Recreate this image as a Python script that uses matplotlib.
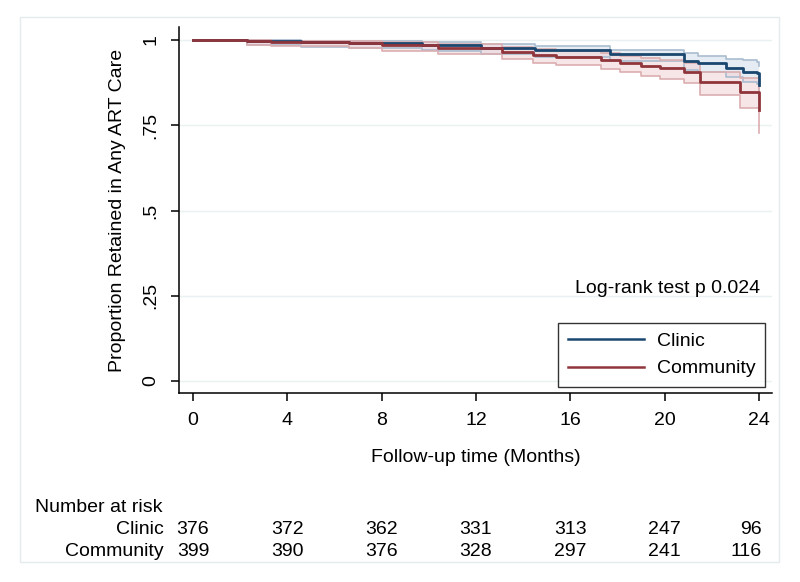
import matplotlib
matplotlib.use("Agg")
import matplotlib.pyplot as plt
import matplotlib.transforms as mtransforms
from matplotlib.patches import Rectangle

plt.rcParams['font.family'] = ['Liberation Sans', 'DejaVu Sans']

# Kaplan-Meier step estimates (months, proportion retained)
clinic_t = [0, 2.3, 4.6, 6.6, 9.7, 10.4, 12.2, 14.5, 17.7, 20.8, 21.4, 22.6, 23.3, 23.9, 24.0]
clinic_s = [1.0, 0.997, 0.993, 0.990, 0.986, 0.984, 0.977, 0.970, 0.958, 0.937, 0.932, 0.918, 0.907, 0.903, 0.868]
clinic_lo = [1.0, 0.986, 0.980, 0.976, 0.971, 0.968, 0.960, 0.951, 0.937, 0.912, 0.906, 0.890, 0.878, 0.872, 0.820]
clinic_hi = [1.0, 1.0, 0.998, 0.996, 0.994, 0.993, 0.988, 0.983, 0.972, 0.962, 0.953, 0.944, 0.940, 0.935, 0.925]

community_t = [0, 2.3, 3.3, 6.6, 8.0, 10.4, 13.1, 14.4, 15.4, 17.3, 18.1, 19.0, 19.8, 20.8, 21.5, 23.2, 24.0]
community_s = [1.0, 0.997, 0.995, 0.990, 0.985, 0.977, 0.965, 0.956, 0.950, 0.941, 0.933, 0.924, 0.918, 0.906, 0.877, 0.847, 0.795]
community_lo = [1.0, 0.985, 0.981, 0.975, 0.968, 0.958, 0.944, 0.933, 0.926, 0.915, 0.905, 0.895, 0.887, 0.873, 0.840, 0.800, 0.727]
community_hi = [1.0, 0.999, 0.998, 0.996, 0.993, 0.988, 0.980, 0.973, 0.968, 0.961, 0.954, 0.947, 0.942, 0.932, 0.906, 0.889, 0.850]

risk_times = [0, 4, 8, 12, 16, 20, 24]
clinic_risk = [376, 372, 362, 331, 313, 247, 96]
community_risk = [399, 390, 376, 328, 297, 241, 116]

blue = '#1a476f'
red = '#90353b'
fs = 14

fig = plt.figure(figsize=(8, 5.82), dpi=100)
fig.patch.set_facecolor('white')
fig.patches.append(Rectangle((20 / 800, 1 - 562 / 582), 759 / 800, 545 / 582,
                             transform=fig.transFigure, fill=False,
                             edgecolor='#e4ebee', linewidth=1))

ax = fig.add_axes([179 / 800, 1 - 393 / 582, 593 / 800, 366 / 582])
ax.set_xlim(-0.594, 24.55)
ax.set_ylim(-0.035, 1.038)

# confidence bands
ax.fill_between(clinic_t, clinic_lo, clinic_hi, step='post', color='#d3deea', alpha=0.55, lw=0)
ax.step(clinic_t, clinic_lo, where='post', color='#a9bccf', lw=1.2)
ax.step(clinic_t, clinic_hi, where='post', color='#a9bccf', lw=1.2)
ax.fill_between(community_t, community_lo, community_hi, step='post', color='#f2d3d4', alpha=0.55, lw=0)
ax.step(community_t, community_lo, where='post', color='#dcaeb0', lw=1.2)
ax.step(community_t, community_hi, where='post', color='#dcaeb0', lw=1.2)

ax.step(clinic_t, clinic_s, where='post', color=blue, lw=2, label='Clinic')
ax.step(community_t, community_s, where='post', color=red, lw=2, label='Community')

ax.set_xticks(risk_times)
ax.set_yticks([0, 0.25, 0.5, 0.75, 1])
ax.set_yticklabels(['0', '.25', '.5', '.75', '1'], rotation=90, va='center')
ax.grid(axis='y', color='#eaf1f2', lw=1)
ax.set_axisbelow(True)
for s in ['top', 'right']:
    ax.spines[s].set_visible(False)
ax.spines['left'].set_linewidth(1.1)
ax.spines['bottom'].set_linewidth(1.1)
ax.tick_params(axis='both', length=6, width=1.1, labelsize=fs, pad=8)
ax.set_xlabel('Follow-up time (Months)', fontsize=fs, labelpad=14)
ax.set_ylabel('Proportion Retained in Any ART Care', fontsize=fs, labelpad=12)

ax.text(0.98, 0.285, 'Log-rank test p 0.024', transform=ax.transAxes,
        ha='right', va='center', fontsize=fs)

leg = ax.legend(loc='lower right', bbox_to_anchor=(0.988, 0.016), borderaxespad=0,
                fontsize=fs, frameon=True, fancybox=False, handlelength=3.9,
                borderpad=0.5, handletextpad=0.65, labelspacing=0.5)
leg.get_frame().set_edgecolor('black')
leg.get_frame().set_linewidth(1)
for ln in leg.get_lines():
    ln.set_linewidth(1.8)

# number at risk table
tr = mtransforms.blended_transform_factory(ax.transData, fig.transFigure)
fig.text(35 / 800, 1 - 507 / 582, 'Number at risk', ha='left', va='center', fontsize=fs)
fig.text(164 / 800, 1 - 529 / 582, 'Clinic', ha='right', va='center', fontsize=fs)
fig.text(164 / 800, 1 - 551 / 582, 'Community', ha='right', va='center', fontsize=fs)
for i, t in enumerate(risk_times):
    ha = 'right' if t == risk_times[-1] else 'center'
    x = t + 0.1 if t == risk_times[-1] else t
    ax.text(x, 1 - 529 / 582, str(clinic_risk[i]), transform=tr, ha=ha, va='center', fontsize=fs)
    ax.text(x, 1 - 551 / 582, str(community_risk[i]), transform=tr, ha=ha, va='center', fontsize=fs)

fig.savefig('out.png', dpi=100)
